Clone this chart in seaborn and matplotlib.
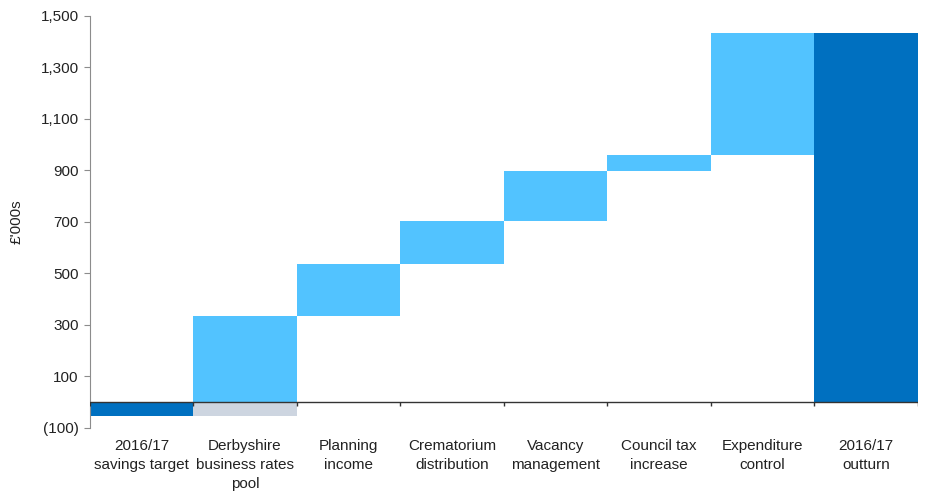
import numpy as np
import pandas as pd
import matplotlib
matplotlib.use("Agg")
import matplotlib.pyplot as plt
import seaborn as sns

# ---------- data (£'000s) ----------
categories = [
    "2016/17\nsavings target",
    "Derbyshire\nbusiness rates\npool",
    "Planning\nincome",
    "Crematorium\ndistribution",
    "Vacancy\nmanagement",
    "Council tax\nincrease",
    "Expenditure\ncontrol",
    "2016/17\noutturn",
]
bar_bottom = [0, 0, 335, 537, 702, 898, 960, 0]
bar_top = [-55, 335, 537, 702, 898, 960, 1432, 1432]
offset_below_zero = [0, -55, 0, 0, 0, 0, 0, 0]   # grey part of the pool bar
bar_kind = ["total", "step", "step", "step", "step", "step", "step", "total"]
yticks = [-100, 100, 300, 500, 700, 900, 1100, 1300, 1500]

dark_blue = "#0070c0"
light_blue = "#52c3ff"
grey = "#cdd5e0"

# ---------- frame ----------
df = pd.DataFrame({
    "category": categories,
    "bottom": bar_bottom,
    "top": bar_top,
    "offset": offset_below_zero,
    "kind": bar_kind,
})
df["height"] = df["top"] - df["bottom"]

sns.set_style("white")
plt.rcParams["font.family"] = ["Liberation Sans", "DejaVu Sans"]

fig = plt.figure(figsize=(9.25, 4.94), dpi=100)
ax = fig.add_axes([0.097, 0.134, 0.895, 0.834])

# grey offset below zero
sns.barplot(data=df, x="category", y="offset", order=categories,
            color=grey, width=1.0, saturation=1, linewidth=0, ax=ax)
n_grey = len(ax.patches)

# waterfall steps / totals
sns.barplot(data=df, x="category", y="height", order=categories,
            bottom=df["bottom"].to_numpy(), color=light_blue, width=1.0,
            saturation=1, linewidth=0, ax=ax)
for patch, kind in zip(ax.patches[n_grey:], df["kind"]):
    patch.set_facecolor(dark_blue if kind == "total" else light_blue)

# zero line with small boundary ticks
ax.axhline(0, color="#333333", lw=1.0, zorder=5)
edges = np.arange(len(categories) + 1) - 0.5
ax.vlines(edges, -14, 0, color="#333333", lw=1.0, zorder=5)

ax.set_xlim(-0.5, len(categories) - 0.5)
ax.set_ylim(-100, 1500)
ax.set_yticks(yticks)
ax.set_yticklabels([f"({abs(v):,})" if v < 0 else f"{v:,}" for v in yticks])
ax.set_xlabel("")
ax.set_ylabel("£'000s", fontsize=11, color="#222222", labelpad=12)

for side in ["top", "right", "bottom"]:
    ax.spines[side].set_visible(False)
ax.spines["left"].set_color("#8c8c8c")
ax.tick_params(axis="y", length=4, color="#8c8c8c", labelsize=11,
               labelcolor="#222222", left=True, pad=4)
ax.tick_params(axis="x", length=0, labelsize=11, labelcolor="#222222", pad=8)
for lbl in ax.get_xticklabels():
    lbl.set_linespacing(1.45)

fig.savefig("out.png", dpi=100)
